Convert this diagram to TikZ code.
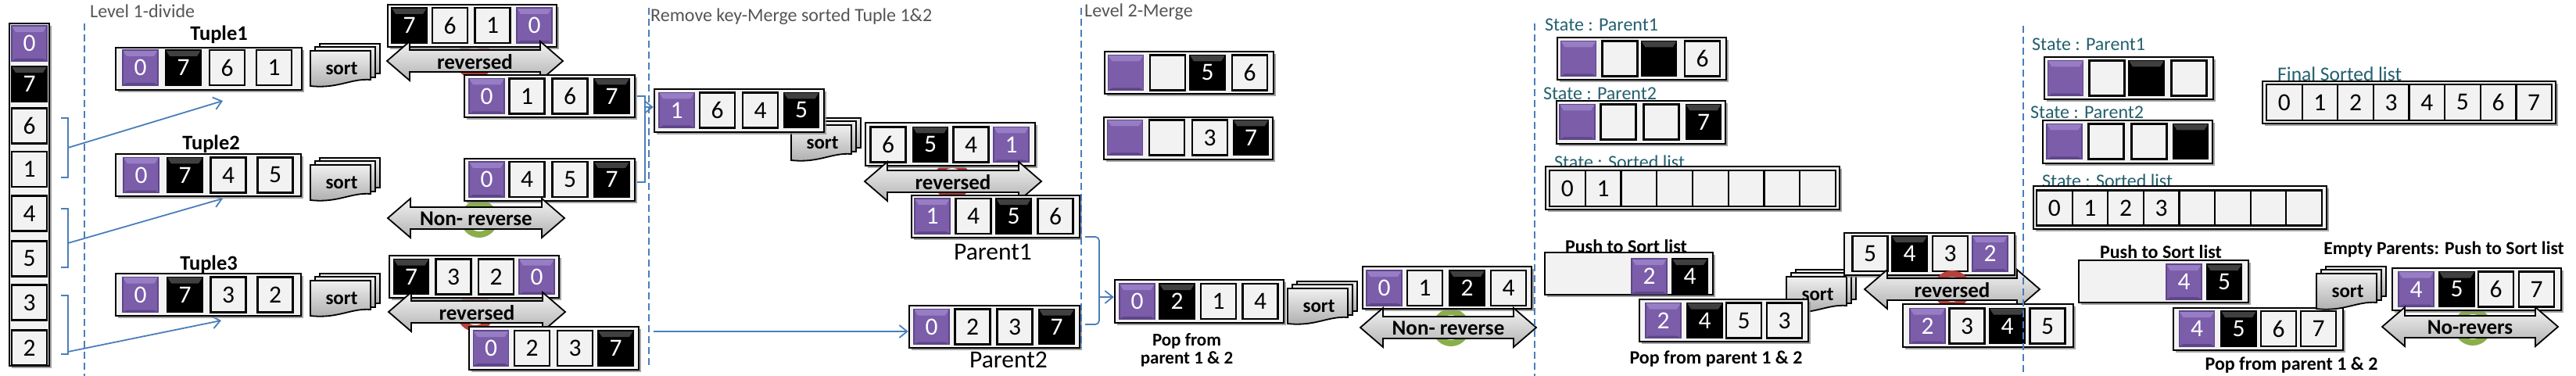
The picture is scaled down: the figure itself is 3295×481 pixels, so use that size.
\documentclass[tikz,border=0pt]{standalone}
\usepackage{fontspec}
\setmainfont{Carlito}
\usetikzlibrary{shadows,arrows.meta}
\definecolor{pur}{HTML}{7B5DAA}
\definecolor{purlt}{HTML}{977DC4}
\definecolor{purdk}{HTML}{5E4689}
\definecolor{cellw}{HTML}{F2F2F2}
\definecolor{blu}{HTML}{4A7EBB}
\definecolor{hdr}{HTML}{555555}
\definecolor{tealtx}{HTML}{23606E}
\definecolor{ringred}{HTML}{B5403C}
\definecolor{ringgrn}{HTML}{8AAE4A}
\newcommand\fsz[1]{\fontsize{#1}{#1}\selectfont}
\tikzset{
  cellbase/.style={rectangle, minimum width=45pt, minimum height=45pt, inner sep=0pt, font=\fsz{31.5}},
  cellW/.style={cellbase, draw=black, line width=2.2pt, fill=cellw, text=black},
  cellP/.style={cellbase, draw=purdk, line width=1.2pt, fill=pur, text=white, path picture={
     \fill[purlt] (path picture bounding box.north west) -- (path picture bounding box.north east) -- ([xshift=-5pt,yshift=-8pt]path picture bounding box.north east) -- ([xshift=5pt,yshift=-8pt]path picture bounding box.north west) -- cycle;
     \fill[purdk] (path picture bounding box.south west) -- (path picture bounding box.south east) -- ([xshift=-5pt,yshift=3pt]path picture bounding box.south east) -- ([xshift=5pt,yshift=3pt]path picture bounding box.south west) -- cycle;}},
  cellB/.style={cellbase, draw=black, line width=1.2pt, fill=black, text=white, path picture={
     \fill[black!75] (path picture bounding box.north west) -- (path picture bounding box.north east) -- ([xshift=-5pt,yshift=-8pt]path picture bounding box.north east) -- ([xshift=5pt,yshift=-8pt]path picture bounding box.north west) -- cycle;}},
  cont/.style={rectangle, draw=black, line width=2.5pt, fill=cellw, inner sep=0pt,
     drop shadow={shadow xshift=2.5pt, shadow yshift=-3pt, fill=black!45, opacity=0.8}},
  divider/.style={draw=blu, line width=2pt, dash pattern=on 9pt off 5pt},
  link/.style={draw=blu, line width=1.8pt, -{Straight Barb[length=10pt,width=16pt]}},
  bracketln/.style={draw=blu, line width=1.8pt},
  hdrtext/.style={font=\fsz{24}, text=hdr, anchor=base west, inner sep=0pt},
  statetext/.style={font=\fsz{24}, text=tealtx, anchor=base west, inner sep=0pt},
  boldlbl/.style={font=\bfseries\fsz{24}, anchor=base, inner sep=0pt},
  tuplelbl/.style={font=\bfseries\fsz{26.5}, anchor=base, inner sep=0pt},
  parentlbl/.style={font=\fsz{31.5}, anchor=base, inner sep=0pt},
  arrlbl/.style={font=\bfseries\fsz{27}, inner sep=0pt},
  sortlbl/.style={font=\bfseries\fsz{25}, inner sep=0pt},
  sortpage/.style={draw=black, line width=1.8pt, top color=white!94!black, bottom color=black!33},
  dblfill/.style={draw=black, line width=1.8pt, top color=white!95!black, bottom color=black!30, line join=miter},
  ringst/.style={circle, line width=8pt, minimum size=40pt, inner sep=0pt},
}
\newcommand\cellrow[3]{\foreach \cx/\ct/\cv [count=\ci] in {#3} {\node[cell\ct] (#1-\ci) at (\cx,#2) {\cv};}}
\newcommand\contbox[5]{\node[cont, minimum width={(#4)-(#2)}, minimum height={(#5)-(#3)}] (#1) at ({((#2)+(#4))/2},{((#3)+(#5))/2}) {};}
\newcommand\dblarrow[5]{%
  \draw[dblfill] (#2,#4) -- ({#2+29},{#4-25}) -- ({#2+29},{#4-14}) -- ({#3-29},{#4-14}) -- ({#3-29},{#4-25}) -- (#3,#4)
     -- ({#3-29},{#4+25}) -- ({#3-29},{#4+14}) -- ({#2+29},{#4+14}) -- ({#2+29},{#4+25}) -- cycle;
  \node[arrlbl] (#1) at ({(#2+#3)/2},{#4+1}) {#5};}
\newcommand\sorticon[3]{%
  \begin{scope}[shift={(#2,#3)}]
    \draw[sortpage] (12,0) rectangle (89,38);
    \draw[sortpage] (6,4) rectangle (83,43);
    \draw[sortpage] (0,9) -- (77,9) -- (77,46) .. controls (52,44) and (35,58) .. (0,54) -- cycle;
    \node[sortlbl] (#1) at (40,32) {sort};
  \end{scope}}
\newcommand\ringmark[4]{\node[ringst, draw=#4] (#1) at (#2,#3) {};}
\begin{document}
\begin{tikzpicture}[x=1pt,y=-1pt]
\fill[white] (0,0) rectangle (3295,481);
\useasboundingbox (0,0) rectangle (3295,481);

% ---------------- Level 1: divide ----------------
\contbox{colbox}{12}{30}{63}{468}
\foreach \cy/\ct/\cv [count=\ci] in {55.5/P/0,107.5/B/7,161/W/6,216.5/W/1,273/W/4,331/W/5,387/W/3,445/W/2}
  {\node[cell\ct] (col-\ci) at (37.5,\cy) {\cv};}

\draw[bracketln] (78,151) -- (87,151) -- (87,227) -- (78,227);
\draw[bracketln] (78,267) -- (87,267) -- (87,342) -- (78,342);
\draw[bracketln] (78,378) -- (87,378) -- (87,453) -- (78,453);
\coordinate (b1m) at (87,189); \coordinate (t1in) at (285,129);
\coordinate (b2m) at (87,311); \coordinate (t2in) at (285,254);
\coordinate (b3m) at (87,450); \coordinate (t3in) at (283,410);
\draw[link] (b1m) -- (t1in);
\draw[link] (b2m) -- (t2in);
\draw[link] (b3m) -- (t3in);

\node[tuplelbl] (tl1) at (280,52) {Tuple1};
\node[tuplelbl] (tl2) at (270,192) {Tuple2};
\node[tuplelbl] (tl3) at (267,345) {Tuple3};
\contbox{tb1}{148}{61}{386}{115}
\cellrow{tup1}{86.5}{179.5/P/0,234.5/B/7,290.5/W/6,350.5/W/1}
\contbox{tb2}{148}{197}{385}{251}
\cellrow{tup2}{224}{180.5/P/0,236.5/B/7,292/W/4,352/W/5}
\contbox{tb3}{148}{350}{385}{404}
\cellrow{tup3}{377}{179.5/P/0,236.5/B/7,292/W/3,352/W/2}

\sorticon{s1}{397}{56}
\sorticon{s2}{397}{202}
\sorticon{s3}{397}{350}

\ringmark{r1}{607}{77}{ringred}
\contbox{g1abox}{496}{6}{712}{60}
\cellrow{g1a}{32.5}{523.5/B/7,575.5/W/6,630/W/1,683.5/P/0}
\dblarrow{a1}{495}{720}{78}{reversed}
\contbox{g1bbox}{594}{96}{812}{150}
\cellrow{g1b}{123}{622.5/P/0,674/W/1,729/W/6,782.5/B/7}

\ringmark{r2}{613}{280}{ringgrn}
\contbox{g2box}{594}{203}{812}{257}
\cellrow{g2}{229.5}{622.5/P/0,674/W/4,729/W/5,782.5/B/7}
\dblarrow{a2}{496}{722}{279}{Non- reverse}

\ringmark{r3}{608}{400}{ringred}
\contbox{g3abox}{498}{327}{715}{381}
\cellrow{g3a}{354}{526/B/7,580/W/3,634.5/W/2,686.5/P/0}
\dblarrow{a3}{497}{723}{399}{reversed}
\contbox{g3bbox}{600}{418}{817}{473}
\cellrow{g3b}{445.5}{628/P/0,680.5/W/2,735.5/W/3,787.5/B/7}

% ---------------- Remove key - merge ----------------
\sorticon{s4}{1012}{151}
\contbox{m1box}{837}{114}{1054}{169}
\cellrow{m1}{141}{865.5/P/1,917.5/W/6,972.5/W/4,1025/B/5}
\draw[bracketln] (815,123) -- (825,123) -- (825,233) -- (815,233);
\coordinate (b4m) at (825,137);
\draw[link] (b4m) -- (b4m -| m1box.west);

\ringmark{r4}{1218}{231}{ringred}
\contbox{m2box}{1107}{157}{1324}{212}
\cellrow{m2}{185}{1136/W/6,1190/B/5,1242/W/4,1293.5/P/1}
\dblarrow{a4}{1106}{1332}{232}{reversed}
\contbox{par1box}{1166}{250}{1381}{304}
\cellrow{par1}{276.5}{1192.5/P/1,1245/W/4,1296.5/B/5,1350/W/6}
\node[parentlbl] (pl1) at (1270,332) {Parent1};

\contbox{par2box}{1163}{391}{1381}{445}
\cellrow{par2}{418}{1191.5/P/0,1244/W/2,1298/W/3,1351.5/B/7}
\node[parentlbl] (pl2) at (1290,470) {Parent2};
\coordinate (t3o) at (836,424);
\draw[link] (t3o) -- (t3o -| par2box.west);

% ---------------- Level 2 merge ----------------
\draw[bracketln, rounded corners=5pt] (1388,303) -- (1406,303) -- (1406,415) -- (1388,415);
\coordinate (b5m) at (1406,380);

\contbox{lvAbox}{1413}{66}{1629}{120}
\cellrow{lvA}{93}{1440/P/{},1493.5/W/{},1544.5/B/5,1598.5/W/6}
\contbox{lvBbox}{1412}{150}{1628}{204}
\cellrow{lvB}{176}{1439/P/{},1492.5/W/{},1547.5/W/3,1600/B/7}

\contbox{pop1box}{1426}{358}{1642}{413}
\cellrow{pop1}{385.5}{1454.5/P/0,1505.5/B/2,1558.5/W/1,1612/W/4}
\draw[link] (b5m) -- (b5m -| pop1box.west);
\node[boldlbl, font=\bfseries\fontsize{23}{23}\selectfont] (pp1a) at (1518,442) {Pop from};
\node[boldlbl, font=\bfseries\fontsize{23}{23}\selectfont] (pp1b) at (1518,465) {parent 1 \& 2};
\sorticon{s5}{1647}{360}
\ringmark{r5}{1856}{419}{ringgrn}
\contbox{res1box}{1743}{341}{1959}{395}
\cellrow{res1}{368.5}{1770.5/P/0,1822.5/W/1,1876.5/B/2,1929.5/W/4}
\dblarrow{a5}{1740}{1965}{419}{Non- reverse}

% ---------------- State step 1 ----------------
\node[statetext] (st1) at (1976,40) {State : Parent1};
\contbox{sp1box}{1992}{48}{2208}{102}
\cellrow{sp1}{75}{2019/P/{},2072/W/{},2122/B/{},2177.5/W/6}
\node[statetext] (st2) at (1974,128) {State : Parent2};
\contbox{sp2box}{1991}{129}{2207}{184}
\cellrow{sp2}{156}{2017.5/P/{},2070/W/{},2125/W/{},2179/B/7}
\node[statetext] (st3) at (1988,215) {State : Sorted list};
\contbox{sl1box}{1977}{213}{2353}{268}
\foreach \cv [count=\ci] in {0,1,{},{},{},{},{},{}}
  {\node[cellW, minimum width=45.75pt, minimum height=46pt] (sl1-\ci) at ({2004.875+(\ci-1)*45.75},241) {\cv};}

\node[boldlbl] (pu1) at (2080,323) {Push to Sort list};
\contbox{push1box}{1976}{323}{2191}{377}
\cellrow{push1}{353.5}{2109.5/P/2,2161.5/B/4}

\sorticon{s6}{2285}{345}
\contbox{m3box}{2359}{298}{2577}{352}
\cellrow{m3}{324.5}{2392/W/5,2442.5/B/4,2494.5/W/3,2545.5/P/2}
\contbox{pop2box}{2097}{383}{2313}{437}
\cellrow{pop2}{410}{2127.5/P/2,2180.5/B/4,2230.5/W/5,2282.5/W/3}
\node[boldlbl] (pp2) at (2195,465) {Pop from parent 1 \& 2};
\ringmark{r6}{2497}{370}{ringred}
\dblarrow{a6}{2385}{2609}{370}{reversed}
\contbox{res2box}{2434}{389}{2652}{444}
\cellrow{res2}{417}{2465.5/P/2,2516/W/3,2567.5/B/4,2619/W/5}

% ---------------- State step 2 ----------------
\node[statetext] (st4) at (2599,65) {State : Parent1};
\contbox{sp1bbox}{2615}{73}{2831}{127}
\cellrow{sp1b}{100}{2642/P/{},2695/W/{},2745.5/B/{},2800/W/{}}
\node[statetext] (st5) at (2597,152) {State : Parent2};
\contbox{sp2bbox}{2613}{154}{2830}{209}
\cellrow{sp2b}{181}{2640.5/P/{},2694/W/{},2749/W/{},2802/B/{}}
\node[statetext] (st6) at (2612,240) {State : Sorted list};
\contbox{sl2box}{2601}{238}{2976}{293}
\foreach \cv [count=\ci] in {0,1,2,3,{},{},{},{}}
  {\node[cellW, minimum width=45.6pt, minimum height=45pt] (sl2-\ci) at ({2627.8+(\ci-1)*45.6},266) {\cv};}

\node[boldlbl] (pu2) at (2764,330) {Push to Sort list};
\contbox{push2box}{2659}{333}{2876}{387}
\cellrow{push2}{360.5}{2793.5/P/4,2845/B/5}
\contbox{pop3box}{2780}{394}{2997}{448}
\cellrow{pop3}{420.5}{2810/P/4,2863.5/B/5,2914.5/W/6,2965.5/W/7}
\node[boldlbl] (pp3) at (2931,473) {Pop from parent 1 \& 2};
\sorticon{s7}{2963}{341}

\node[statetext, font=\fsz{25.5}] (fsl) at (2913,104) {Final Sorted list};
\contbox{finbox}{2894}{104}{3269}{158}
\foreach \cv [count=\ci] in {0,1,2,3,4,5,6,7}
  {\node[cellW, minimum width=45.6pt, minimum height=46pt] (fin-\ci) at ({2921.8+(\ci-1)*45.625},131) {\cv};}

\node[boldlbl, font=\bfseries\fontsize{23.5}{23.5}\selectfont] (emp) at (3126,325) {Empty Parents: Push to Sort list};
\ringmark{r7}{3163}{418}{ringgrn}
\contbox{res3box}{3060}{343}{3276}{397}
\cellrow{res3}{370}{3090.5/P/4,3142.5/B/5,3192.5/W/6,3244.5/W/7}
\dblarrow{a7}{3047}{3272}{418}{No-revers}

% ---------------- dividers and headings ----------------
\draw[divider] (108,30) -- (108,481);
\draw[divider] (830,10) -- (830,467);
\draw[divider] (1383,10) -- (1383,445);
\draw[divider] (1963,30) -- (1963,481);
\draw[divider] (2588,33) -- (2588,481);
\node[hdrtext] (h1) at (115,23) {Level 1-divide};
\node[hdrtext] (h2) at (832,28) {Remove key-Merge sorted Tuple 1\&2};
\node[hdrtext] (h3) at (1387,22) {Level 2-Merge};
\end{tikzpicture}
\end{document}
